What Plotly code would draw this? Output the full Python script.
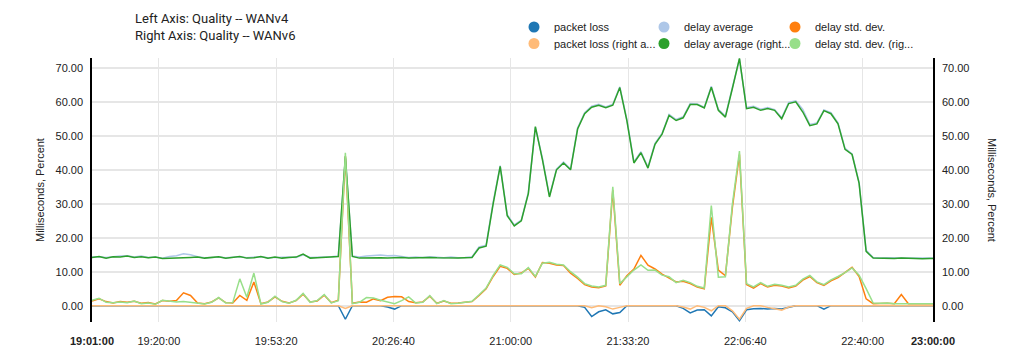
import pandas as pd
import plotly.graph_objects as go

# ---- data (2-minute samples from 19:01, plus the 23:00 end sample) ----
times = list(pd.date_range("2024-01-01 19:01:00", periods=120, freq="2min")) + [pd.Timestamp("2024-01-01 23:00:00")]

packet_loss_v4 = [
    0, 0, 0, 0, 0, 0, 0, 0, 0, 0,
    0, 0, 0, 0, 0, 0, 0, 0, 0, 0,
    0, 0, 0, 0, 0, 0, 0, 0, 0, 0,
    0, 0, 0, 0, 0, 0, -4.0, 0, 0, 0,
    0, 0, -0.4, -1.0, 0, 0, 0, 0, 0, 0,
    0, 0, 0, 0, 0, 0, 0, 0, 0, 0,
    0, 0, 0, 0, 0, 0, 0, 0, 0, 0,
    -0.5, -3.2, -1.8, -1.2, -2.4, -2.0, 0, 0, 0, 0,
    0, 0, 0, 0, -0.8, -2.1, -1.3, -1.2, -3.0, -0.3,
    -0.6, -1.8, -4.4, -1.2, -0.9, -0.8, -1.0, -0.8, -1.0, -0.6,
    0, 0, 0, 0, -1.0, 0, 0, 0, 0, 0,
    0, 0, 0, 0, 0, 0, 0, 0, 0, 0, 0,
]

delay_avg_v4 = [
    14.3, 14.4, 14.2, 14.5, 14.6, 14.7, 14.3, 14.6, 14.2, 14.3,
    14.0, 14.5, 14.7, 15.3, 15.0, 14.4, 14.1, 14.2, 14.3, 14.1,
    14.3, 14.4, 14.1, 14.2, 14.4, 14.1, 14.2, 14.1, 14.3, 14.2,
    15.0, 14.2, 14.2, 14.3, 14.4, 14.6, 43.5, 14.6, 14.3, 14.6,
    14.8, 14.9, 14.7, 14.8, 14.5, 14.2, 14.3, 14.2, 14.4, 14.3,
    14.1, 14.3, 14.1, 14.2, 14.4, 17.3, 17.8, 30.5, 41.2, 26.8,
    23.8, 25.2, 33.3, 52.5, 43.4, 32.3, 40.2, 42.3, 40.2, 52.3,
    56.8, 58.7, 59.3, 58.5, 59.3, 64.4, 54.8, 42.3, 45.3, 40.8,
    47.8, 50.7, 56.3, 54.8, 55.6, 59.5, 59.4, 58.4, 64.6, 57.8,
    55.8, 64.3, 72.6, 58.3, 58.7, 57.8, 58.3, 57.7, 55.3, 59.8,
    60.3, 57.8, 53.3, 53.8, 57.6, 56.8, 53.8, 46.3, 44.7, 36.3,
    16.3, 14.2, 14.0, 14.1, 14.0, 14.1, 14.0, 14.0, 13.9, 14.0, 14.0,
]

delay_std_v4 = [
    1.4, 2.0, 1.2, 0.8, 1.2, 1.0, 1.3, 0.7, 0.9, 0.5,
    1.5, 1.3, 1.5, 3.8, 3.0, 0.8, 0.6, 1.1, 2.3, 0.9,
    0.8, 3.0, 1.6, 7.0, 0.6, 1.1, 2.6, 1.3, 0.8, 1.5,
    3.4, 1.1, 1.4, 3.1, 0.9, 1.6, 44.0, 0.7, 1.1, 1.0,
    2.0, 1.5, 2.5, 2.7, 2.6, 1.2, 0.9, 1.1, 2.8, 0.7,
    1.4, 0.7, 0.8, 1.1, 1.2, 3.0, 5.0, 8.6, 11.6, 11.0,
    9.2, 9.6, 11.0, 8.4, 12.7, 12.5, 12.0, 11.8, 9.6, 8.0,
    6.2, 5.5, 5.3, 5.8, 34.0, 6.0, 8.8, 10.8, 14.8, 11.9,
    10.8, 9.3, 8.2, 7.0, 7.2, 6.5, 5.5, 5.0, 26.0, 10.5,
    8.8, 29.0, 44.5, 6.2, 5.2, 6.5, 5.5, 6.0, 5.8, 5.2,
    5.8, 7.5, 8.6, 6.8, 6.0, 7.3, 8.3, 9.9, 11.3, 8.6,
    2.0, 0.6, 0.7, 0.7, 0.6, 3.3, 0.6, 0.6, 0.6, 0.6, 0.6,
]

packet_loss_v6 = [
    0, 0, 0, 0, 0, 0, 0, 0, 0, 0,
    0, 0, 0, 0, 0, 0, 0, 0, 0, 0,
    0, 0, 0, 0, 0, 0, 0, 0, 0, 0,
    0, 0, 0, 0, 0, 0, -0.8, 0, 0, 0,
    0, 0, 0, 0, 0, 0, 0, 0, 0, 0,
    0, 0, 0, 0, 0, 0, 0, 0, 0, 0,
    0, 0, 0, 0, 0, 0, 0, 0, 0, 0,
    0, -0.6, 0, -0.3, -1.0, -0.5, 0, 0, 0, 0,
    0, 0, 0, 0, -0.4, -1.0, 0, -0.5, -1.5, 0,
    0, -1.5, -4.0, -0.8, 0, 0, -0.5, -0.8, -1.3, -0.4,
    0, 0, 0, 0, 0, 0, 0, 0, 0, 0,
    0, 0, 0, 0, 0, 0, 0, 0, 0, 0, 0,
]

delay_avg_v6 = [
    14.2, 14.5, 14.0, 14.4, 14.3, 14.6, 14.2, 14.4, 14.1, 14.3,
    13.9, 13.9, 14.0, 14.1, 14.2, 14.3, 14.0, 14.1, 14.4, 14.0,
    14.2, 14.5, 14.0, 14.1, 14.5, 14.0, 14.3, 14.0, 14.2, 14.3,
    15.2, 14.0, 14.1, 14.2, 14.4, 14.5, 44.0, 14.5, 14.0, 14.1,
    14.2, 14.1, 14.0, 14.1, 14.2, 14.0, 14.1, 14.0, 14.2, 14.1,
    14.0, 14.1, 14.0, 14.1, 14.2, 17.0, 17.5, 30.0, 41.0, 26.5,
    23.5, 25.0, 33.0, 52.7, 43.0, 32.0, 40.0, 42.0, 40.0, 52.0,
    56.5, 58.4, 59.0, 58.3, 59.0, 64.2, 54.5, 42.0, 45.0, 40.5,
    47.5, 50.5, 56.0, 54.5, 55.3, 59.2, 59.2, 58.2, 64.3, 57.5,
    55.5, 64.0, 72.8, 58.0, 58.4, 57.5, 58.0, 57.5, 55.0, 59.5,
    60.0, 57.0, 53.0, 53.5, 57.4, 56.5, 53.5, 46.0, 44.5, 36.0,
    16.0, 14.0, 13.9, 14.0, 13.9, 14.0, 13.9, 13.9, 13.8, 13.9, 13.9,
]

delay_std_v6 = [
    1.6, 2.2, 1.0, 0.9, 1.1, 0.9, 1.4, 0.6, 0.8, 0.4,
    1.6, 1.4, 1.1, 1.2, 1.0, 0.8, 0.5, 1.0, 2.4, 0.8,
    0.9, 7.9, 2.5, 9.6, 0.5, 1.0, 2.8, 1.2, 0.7, 1.6,
    3.6, 1.0, 1.5, 3.3, 0.8, 1.5, 45.0, 0.6, 1.0, 2.4,
    2.3, 1.6, 1.0, 0.6, 1.5, 2.6, 0.8, 1.0, 3.0, 0.6,
    1.5, 0.6, 0.7, 1.0, 1.3, 3.2, 5.2, 8.9, 12.0, 11.3,
    9.4, 9.4, 11.2, 8.6, 12.5, 12.8, 12.2, 12.0, 10.0, 8.4,
    6.5, 5.8, 5.5, 6.0, 35.0, 6.5, 8.5, 10.5, 12.0, 10.4,
    10.5, 9.0, 8.5, 6.8, 7.5, 6.8, 5.7, 5.2, 29.5, 8.4,
    8.5, 30.0, 45.5, 6.5, 5.5, 6.8, 5.7, 6.3, 6.0, 5.5,
    6.0, 7.8, 8.9, 7.0, 6.2, 7.6, 8.6, 9.7, 11.1, 9.0,
    5.0, 0.8, 0.7, 0.8, 0.6, 0.6, 0.6, 0.6, 0.6, 0.6, 0.6,
]

series_names = [
    "packet loss", "delay average", "delay std. dev.",
    "packet loss (right a...", "delay average (right...", "delay std. dev. (rig...",
]
series_colors = ["#1f77b4", "#aec7e8", "#ff7f0e", "#ffbb78", "#2ca02c", "#98df8a"]
series_values = [packet_loss_v4, delay_avg_v4, delay_std_v4,
                 packet_loss_v6, delay_avg_v6, delay_std_v6]
series_axes = ["y", "y", "y", "y2", "y2", "y2"]

x_tick_vals = ["2024-01-01 19:01:00", "2024-01-01 19:20:00", "2024-01-01 19:53:20",
               "2024-01-01 20:26:40", "2024-01-01 21:00:00", "2024-01-01 21:33:20",
               "2024-01-01 22:06:40", "2024-01-01 22:40:00", "2024-01-01 23:00:00"]
x_tick_text = ["<b>19:01:00</b>", "19:20:00", "19:53:20", "20:26:40", "21:00:00",
               "21:33:20", "22:06:40", "22:40:00", "<b>23:00:00</b>"]
y_tick_vals = [0, 10, 20, 30, 40, 50, 60, 70]

titles = ["Left Axis: Quality -- WANv4", "Right Axis: Quality -- WANv6"]
y_title = "Milliseconds, Percent"

# ---- layout constants (pixels) ----
W, H = 1024, 359
ML, MR, MT, MB = 92, 91, 58, 37
PW, PH = W - ML - MR, H - MT - MB
legend_text_x = [554, 684, 815]   # where each legend column's text starts
legend_row_y = [27, 43.5]

fig = go.Figure()
for name, color, vals, ax in zip(series_names, series_colors, series_values, series_axes):
    fig.add_trace(go.Scatter(
        x=times, y=vals, mode="lines", name=name, yaxis=ax,
        line=dict(color=color, width=1.5), legendgroup=name, showlegend=False,
    ))

legend_cfg = {}
for i, (name, color) in enumerate(zip(series_names, series_colors)):
    key = "legend" if i == 0 else f"legend{i + 1}"
    fig.add_trace(go.Scatter(
        x=[None], y=[None], mode="markers", name=name, legendgroup=name,
        marker=dict(color=color, size=11, symbol="circle"), legend=key,
    ))
    col, row = i % 3, i // 3
    legend_cfg[key] = dict(
        orientation="h", xanchor="left", yanchor="middle",
        x=(legend_text_x[col] - 40 - ML) / PW, y=(H - MB - legend_row_y[row]) / PH,
        bgcolor="rgba(0,0,0,0)", font=dict(size=11, color="#222"),
    )

yr = [-4.8, 72.9]
axis_font = dict(family="Liberation Sans, Arial, sans-serif", size=11, color="#222")
fig.update_layout(
    width=W, height=H,
    margin=dict(l=ML, r=MR, t=MT, b=MB, autoexpand=False),
    paper_bgcolor="white", plot_bgcolor="white",
    font=dict(family="Liberation Sans, Arial, sans-serif", size=11, color="#222"),
    title=dict(text="<br>".join(titles), xref="container", x=135 / W, xanchor="left",
               yref="container", y=1 - 23 / H, yanchor="top",
               font=dict(family="Roboto, Liberation Sans, sans-serif", size=13, color="#222")),
    xaxis=dict(type="date", range=[x_tick_vals[0], x_tick_vals[-1]],
               tickmode="array", tickvals=x_tick_vals, ticktext=x_tick_text,
               showgrid=True, gridcolor="#e6e6e6", gridwidth=1, zeroline=False,
               showline=False, ticks="outside", ticklen=9, tickcolor="rgba(0,0,0,0)",
               tickfont=axis_font),
    yaxis=dict(range=yr, tickmode="array", tickvals=y_tick_vals, tickformat=".2f",
               showgrid=True, gridcolor="#e6e6e6", gridwidth=1.5, zeroline=False,
               showline=True, linecolor="#000", linewidth=1.5,
               ticks="outside", ticklen=5, tickcolor="rgba(0,0,0,0)", tickfont=axis_font),
    yaxis2=dict(range=yr, overlaying="y", side="right", tickmode="array",
                tickvals=y_tick_vals, tickformat=".2f", showgrid=False, zeroline=False,
                showline=True, linecolor="#000", linewidth=1.5,
                ticks="outside", ticklen=5, tickcolor="rgba(0,0,0,0)", tickfont=axis_font),
    annotations=[
        dict(text=y_title, xref="paper", yref="paper", x=(40 - ML) / PW, y=0.5,
             xanchor="center", yanchor="middle", textangle=-90, showarrow=False,
             font=dict(size=11, color="#222")),
        dict(text=y_title, xref="paper", yref="paper", x=(992 - ML) / PW, y=0.5,
             xanchor="center", yanchor="middle", textangle=90, showarrow=False,
             font=dict(size=11, color="#222")),
    ],
    **legend_cfg,
)

fig.write_html("out.html", config={"displayModeBar": False},
               post_script="document.body.style.margin='0';document.body.style.overflow='hidden';")
